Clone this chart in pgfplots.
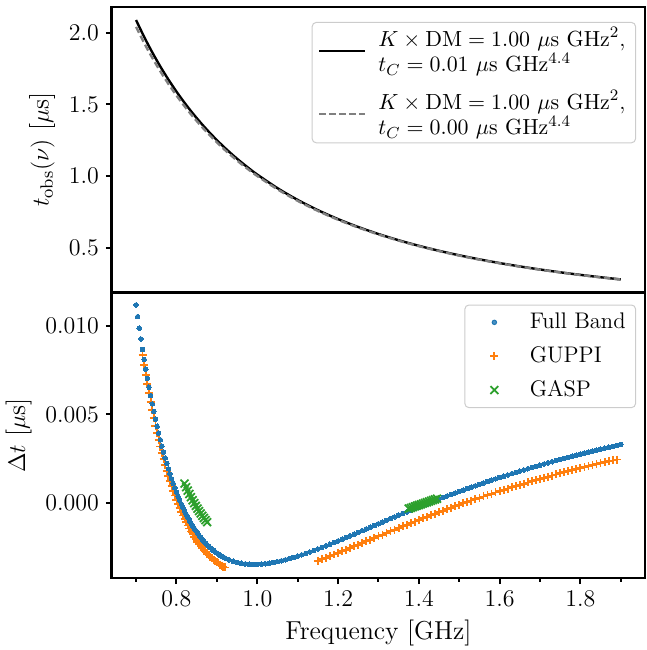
\documentclass[border=0pt]{standalone}
\usepackage{pgfplots}
\pgfplotsset{compat=1.18}
\definecolor{tabblue}{HTML}{1F77B4}
\definecolor{taborange}{HTML}{FF7F0E}
\definecolor{tabgreen}{HTML}{2CA02C}
\newcommand{\fs}{\fontsize{12.5}{15}\selectfont}
\newcommand{\labfs}{\fontsize{13}{15}\selectfont}
\newcommand{\lfs}{\fontsize{11.3}{11}\selectfont}
\begin{document}
\begin{tikzpicture}
\pgfplotsset{
  base/.style={
    scale only axis, width=267pt, height=143pt,
    xmin=0.64, xmax=1.96,
    axis line style={line width=1.35pt},
    tick align=outside, tick pos=left,
    major tick length=3pt, minor tick length=1.75pt,
    every tick/.style={black, line width=1pt},
    tick label style={font=\fs},
    label style={font=\labfs},
    legend style={font=\lfs, draw=black!20, rounded corners=2pt, fill=white,
      fill opacity=0.8, text opacity=1, line width=0.5pt,
      cells={anchor=west, align=left},
      /tikz/every odd column/.append style={column sep=4pt}},
  }
}
\begin{axis}[base, name=top, ymin=0.186, ymax=2.18, xtick=\empty,
  ytick={0.5,1.0,1.5,2.0},
  yticklabel style={/pgf/number format/.cd, fixed, fixed zerofill, precision=1},
  ylabel={$t_{\mathrm{obs}}(\nu)$ [$\mu$s]},
  legend style={at={(1,1)}, anchor=north east, xshift=-4.5pt, yshift=-7.5pt, row sep=4pt, inner ysep=0.5pt},
  legend image code/.code={\draw[#1] (0pt,0pt) -- (23pt,0pt);}]
\addplot[black, line width=1.2pt, smooth] coordinates {
(0.70,2.088852) (0.72,1.971448) (0.74,1.863767) (0.76,1.764754) (0.78,1.673494)
(0.80,1.589194) (0.82,1.511155) (0.84,1.438770) (0.86,1.371500) (0.88,1.308872)
(0.90,1.250466) (0.92,1.195906) (0.94,1.144863) (0.96,1.097037) (0.98,1.052163)
(1.00,1.01) (1.05,0.915097) (1.10,0.833021) (1.15,0.761551) (1.20,0.698927)
(1.25,0.643746) (1.30,0.594869) (1.35,0.551367) (1.40,0.512479) (1.45,0.477574)
(1.50,0.446124) (1.55,0.417687) (1.60,0.391889) (1.65,0.368413) (1.70,0.346989)
(1.75,0.327383) (1.80,0.309395) (1.85,0.292852) (1.90,0.277602)};
\addlegendentry{$K\times\mathrm{DM}=1.00~\mu\mathrm{s~GHz}^{2}$,\\$t_C=0.01~\mu\mathrm{s~GHz}^{4.4}$}
\addplot[gray, line width=1.2pt, dash pattern=on 3.3pt off 1.7pt, smooth] coordinates {
(0.70,2.040816) (0.72,1.929012) (0.74,1.826150) (0.76,1.731302) (0.78,1.643655)
(0.80,1.5625) (0.82,1.487210) (0.84,1.417234) (0.86,1.352082) (0.88,1.291322)
(0.90,1.234568) (0.92,1.181474) (0.94,1.131734) (0.96,1.085069) (0.98,1.041233)
(1.00,1.0) (1.05,0.907029) (1.10,0.826446) (1.15,0.756144) (1.20,0.694444)
(1.25,0.64) (1.30,0.591716) (1.35,0.548697) (1.40,0.510204) (1.45,0.475624)
(1.50,0.444444) (1.55,0.416233) (1.60,0.390625) (1.65,0.367309) (1.70,0.346021)
(1.75,0.326531) (1.80,0.308642) (1.85,0.292184) (1.90,0.277008)};
\addlegendentry{$K\times\mathrm{DM}=1.00~\mu\mathrm{s~GHz}^{2}$,\\$t_C=0.00~\mu\mathrm{s~GHz}^{4.4}$}
\end{axis}

\begin{axis}[base, name=bot, at={(top.south west)}, anchor=north west,
  ymin=-0.00428, ymax=0.01191,
  xtick={0.8,1.0,1.2,1.4,1.6,1.8}, minor xtick={0.7,0.9,1.1,1.3,1.5,1.7,1.9},
  xticklabel style={/pgf/number format/.cd, fixed, fixed zerofill, precision=1},
  ytick={0,0.005,0.01}, scaled y ticks=false,
  yticklabel style={/pgf/number format/.cd, fixed, fixed zerofill, precision=3},
  xlabel={Frequency [GHz]}, ylabel={$\Delta t$ [$\mu$s]},
  legend style={at={(1,1)}, anchor=north east, xshift=-4.5pt, yshift=-6pt, row sep=3.5pt},
  legend image code/.code={\path (0pt,0pt) (23pt,0pt); \draw[#1] plot coordinates {(11.5pt,0pt)};}]
\addlegendimage{only marks, mark=*, mark size=1.1pt, color=tabblue}
\addlegendentry{Full Band}
\addlegendimage{only marks, mark=+, mark size=2pt, color=taborange, mark options={line width=0.9pt}}
\addlegendentry{GUPPI}
\addlegendimage{only marks, mark=x, mark size=2.8pt, color=tabgreen, mark options={line width=0.9pt}}
\addlegendentry{GASP}
% GUPPI
\addplot[forget plot, only marks, mark=+, mark size=2pt, color=taborange, mark options={line width=0.9pt}] table {
0.716 0.008363
0.720 0.007789
0.724 0.007237
0.728 0.006708
0.732 0.006200
0.736 0.005713
0.740 0.005245
0.744 0.004797
0.748 0.004366
0.752 0.003954
0.756 0.003558
0.760 0.003179
0.764 0.002815
0.768 0.002467
0.772 0.002132
0.776 0.001812
0.780 0.001505
0.784 0.001211
0.788 0.000930
0.792 0.000659
0.796 0.000402
0.800 0.000155
0.804 -0.000082
0.808 -0.000308
0.812 -0.000523
0.816 -0.000730
0.820 -0.000928
0.824 -0.001117
0.828 -0.001296
0.832 -0.001468
0.836 -0.001633
0.840 -0.001789
0.844 -0.001938
0.848 -0.002079
0.852 -0.002215
0.856 -0.002343
0.860 -0.002465
0.864 -0.002581
0.868 -0.002691
0.872 -0.002796
0.876 -0.002895
0.880 -0.002990
0.884 -0.003078
0.888 -0.003161
0.892 -0.003241
0.896 -0.003316
0.900 -0.003386
0.904 -0.003451
0.908 -0.003513
0.912 -0.003571
0.916 -0.003625
0.920 -0.003677
};
\addplot[forget plot, only marks, mark=+, mark size=2pt, color=taborange, mark options={line width=0.9pt}] table {
1.15 -0.003292
1.16 -0.003206
1.17 -0.003120
1.18 -0.003032
1.19 -0.002941
1.20 -0.002850
1.21 -0.002758
1.22 -0.002665
1.23 -0.002572
1.24 -0.002478
1.25 -0.002383
1.26 -0.002289
1.27 -0.002193
1.28 -0.002098
1.29 -0.002004
1.30 -0.001908
1.31 -0.001814
1.32 -0.001719
1.33 -0.001626
1.34 -0.001532
1.35 -0.001439
1.36 -0.001346
1.37 -0.001255
1.38 -0.001164
1.39 -0.001073
1.40 -0.000983
1.41 -0.000893
1.42 -0.000804
1.43 -0.000716
1.44 -0.000629
1.45 -0.000543
1.46 -0.000457
1.47 -0.000373
1.48 -0.000288
1.49 -0.000205
1.50 -0.000123
1.51 -0.000042
1.52 0.000039
1.53 0.000118
1.54 0.000198
1.55 0.000275
1.56 0.000352
1.57 0.000428
1.58 0.000504
1.59 0.000579
1.60 0.000652
1.61 0.000724
1.62 0.000797
1.63 0.000868
1.64 0.000938
1.65 0.001008
1.66 0.001076
1.67 0.001145
1.68 0.001211
1.69 0.001278
1.70 0.001343
1.71 0.001408
1.72 0.001472
1.73 0.001535
1.74 0.001596
1.75 0.001657
1.76 0.001718
1.77 0.001779
1.78 0.001838
1.79 0.001897
1.80 0.001954
1.81 0.002012
1.82 0.002068
1.83 0.002123
1.84 0.002179
1.85 0.002234
1.86 0.002287
1.87 0.002340
1.88 0.002392
1.89 0.002444
};
% Full band
\addplot[forget plot, only marks, mark=*, mark size=1.15pt, color=tabblue, mark options={line width=0pt}] table {
0.700 0.011211
0.704 0.010541
0.708 0.009896
0.712 0.009279
0.716 0.008685
0.720 0.008117
0.724 0.007571
0.728 0.007048
0.732 0.006546
0.736 0.006065
0.740 0.005603
0.744 0.005160
0.748 0.004735
0.752 0.004328
0.756 0.003938
0.760 0.003564
0.764 0.003205
0.768 0.002862
0.772 0.002532
0.776 0.002217
0.780 0.001915
0.784 0.001626
0.788 0.001349
0.792 0.001083
0.796 0.000831
0.800 0.000588
0.804 0.000356
0.808 0.000134
0.812 -0.000077
0.816 -0.000280
0.820 -0.000473
0.824 -0.000658
0.828 -0.000833
0.832 -0.001001
0.836 -0.001162
0.840 -0.001314
0.844 -0.001459
0.848 -0.001597
0.852 -0.001729
0.856 -0.001853
0.860 -0.001972
0.864 -0.002084
0.868 -0.002191
0.872 -0.002292
0.876 -0.002388
0.880 -0.002479
0.884 -0.002564
0.888 -0.002644
0.892 -0.002720
0.896 -0.002792
0.900 -0.002859
0.904 -0.002921
0.908 -0.002980
0.912 -0.003035
0.916 -0.003086
0.920 -0.003135
0.93 -0.003239
0.94 -0.003323
0.95 -0.003389
0.96 -0.003438
0.97 -0.003474
0.98 -0.003494
0.99 -0.003503
1.00 -0.003500
1.01 -0.003486
1.02 -0.003464
1.03 -0.003434
1.04 -0.003394
1.05 -0.003349
1.06 -0.003296
1.07 -0.003239
1.08 -0.003175
1.09 -0.003108
1.10 -0.003036
1.11 -0.002960
1.12 -0.002881
1.13 -0.002799
1.14 -0.002715
1.15 -0.002628
1.16 -0.002539
1.17 -0.002449
1.18 -0.002357
1.19 -0.002263
1.20 -0.002169
1.21 -0.002073
1.22 -0.001977
1.23 -0.001881
1.24 -0.001784
1.25 -0.001686
1.26 -0.001589
1.27 -0.001490
1.28 -0.001393
1.29 -0.001296
1.30 -0.001197
1.31 -0.001101
1.32 -0.001003
1.33 -0.000908
1.34 -0.000811
1.35 -0.000716
1.36 -0.000621
1.37 -0.000527
1.38 -0.000434
1.39 -0.000341
1.40 -0.000249
1.41 -0.000157
1.42 -0.000066
1.43 0.000024
1.44 0.000113
1.45 0.000201
1.46 0.000289
1.47 0.000375
1.48 0.000461
1.49 0.000546
1.50 0.000630
1.51 0.000713
1.52 0.000795
1.53 0.000876
1.54 0.000957
1.55 0.001036
1.56 0.001114
1.57 0.001192
1.58 0.001269
1.59 0.001346
1.60 0.001420
1.61 0.001494
1.62 0.001568
1.63 0.001640
1.64 0.001712
1.65 0.001783
1.66 0.001852
1.67 0.001922
1.68 0.001990
1.69 0.002058
1.70 0.002124
1.71 0.002190
1.72 0.002255
1.73 0.002319
1.74 0.002382
1.75 0.002444
1.76 0.002506
1.77 0.002568
1.78 0.002628
1.79 0.002688
1.80 0.002746
1.81 0.002805
1.82 0.002862
1.83 0.002918
1.84 0.002975
1.85 0.003030
1.86 0.003084
1.87 0.003138
1.88 0.003191
1.89 0.003244
1.90 0.003296
};
% GASP
\addplot[forget plot, only marks, mark=x, mark size=2.8pt, color=tabgreen, mark options={line width=0.9pt}] table {
0.820 0.001080
0.824 0.000874
0.828 0.000678
0.832 0.000489
0.836 0.000308
0.840 0.000136
0.844 -0.000029
0.848 -0.000186
0.852 -0.000338
0.856 -0.000481
0.860 -0.000618
0.864 -0.000749
0.868 -0.000874
0.872 -0.000993
0.876 -0.001107
};
\addplot[forget plot, only marks, mark=x, mark size=2.8pt, color=tabgreen, mark options={line width=0.9pt}] table {
1.375 -0.000342
1.380 -0.000301
1.385 -0.000260
1.390 -0.000219
1.395 -0.000179
1.400 -0.000138
1.405 -0.000098
1.410 -0.000057
1.415 -0.000017
1.420 0.000024
1.425 0.000064
1.430 0.000104
1.435 0.000144
1.440 0.000183
1.445 0.000222
};
\end{axis}
\pgfresetboundingbox
\path[use as bounding box] ([xshift=-56pt,yshift=-36pt]bot.south west) rectangle ([xshift=0.5pt,yshift=3.5pt]top.north east);
\end{tikzpicture}
\end{document}
